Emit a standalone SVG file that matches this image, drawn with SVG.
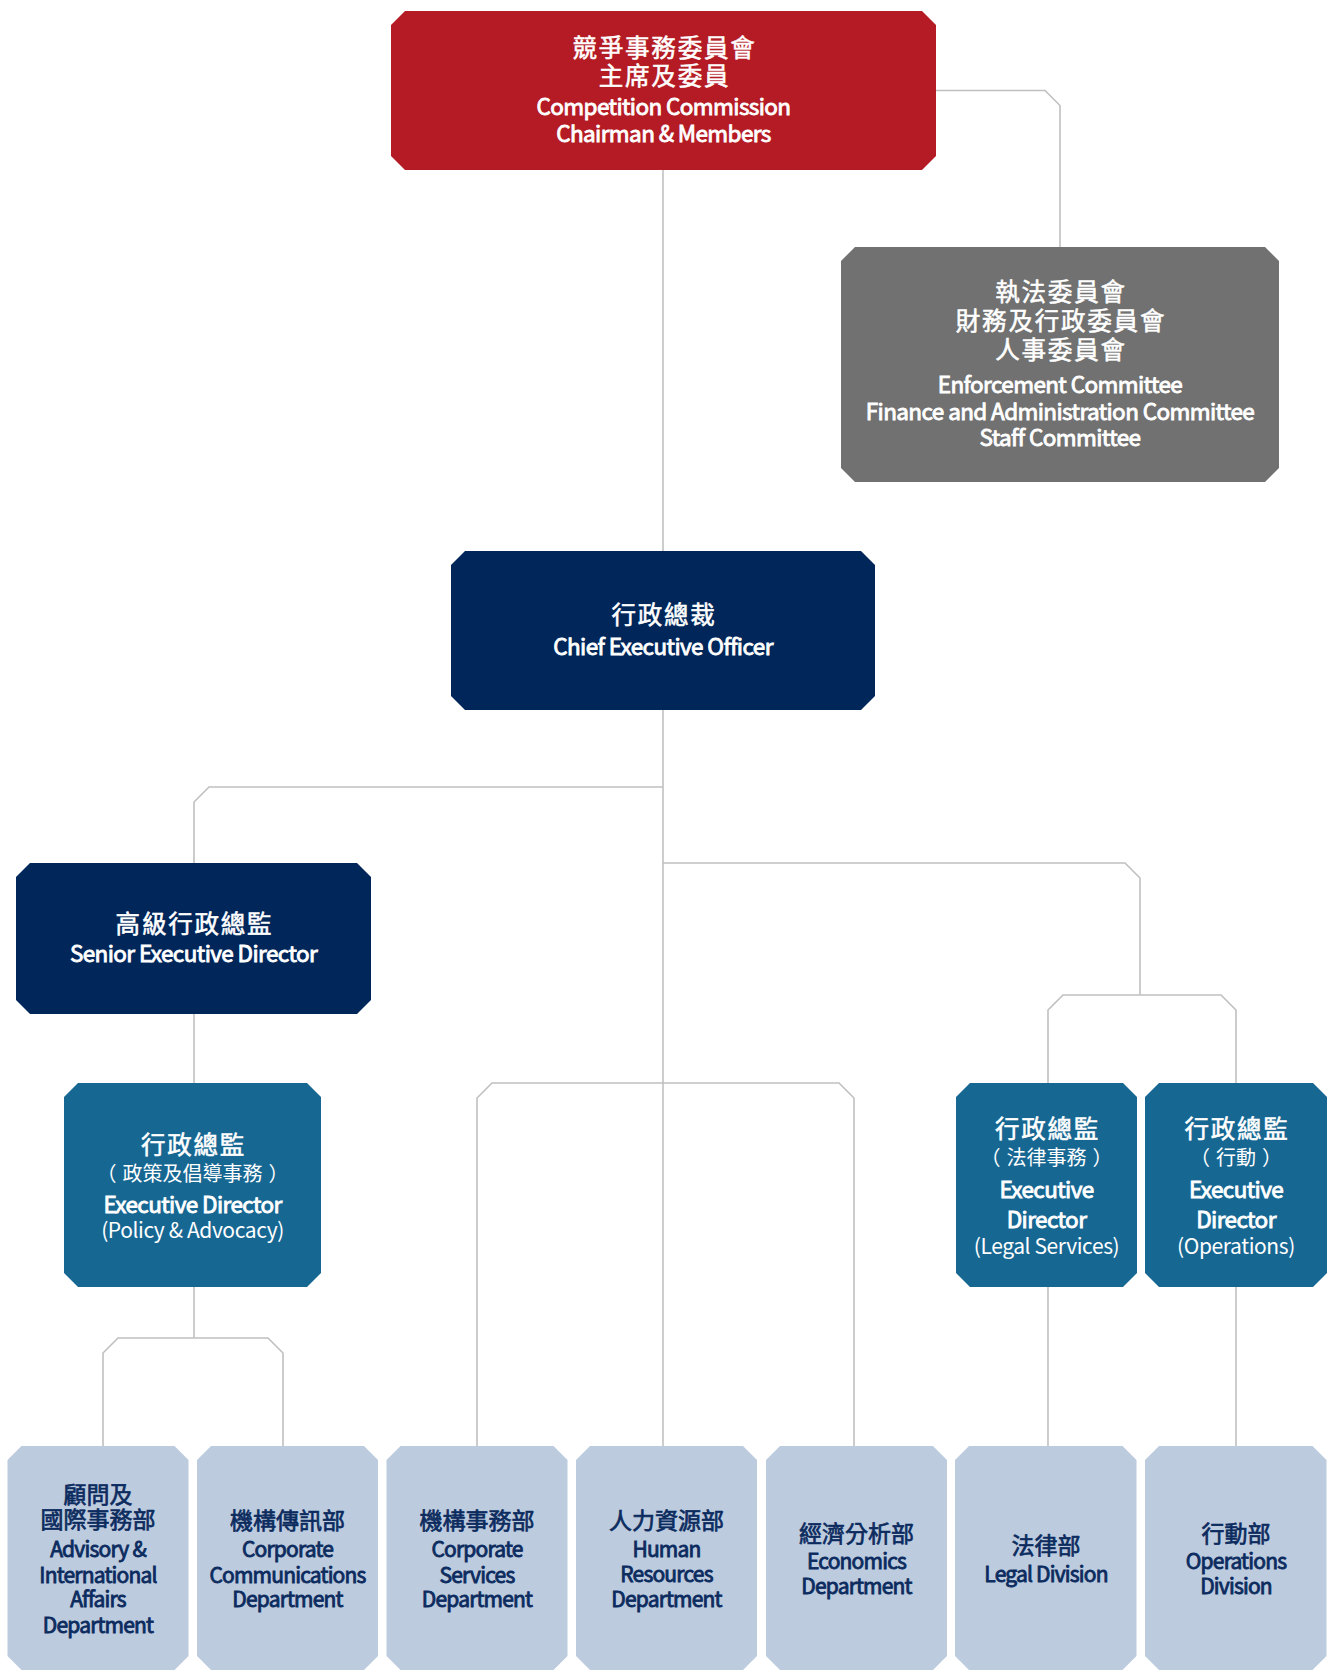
<svg xmlns="http://www.w3.org/2000/svg" width="1329" height="1670" viewBox="0 0 1329 1670">
<style>
text{font-family:"Noto Sans CJK TC","Noto Sans CJK SC",sans-serif;text-anchor:middle}
.w{fill:#ffffff;stroke:#ffffff}
.d{fill:#0c2b5e;stroke:#0c2b5e}
.cn{font-size:24.5px;letter-spacing:1.8px;stroke-width:0.55px}
.cp{font-size:20px;letter-spacing:0;stroke-width:0}
.en{font-size:22.5px;letter-spacing:-0.6px;stroke-width:0.85px}
.ep{font-size:21px;letter-spacing:-0.4px;stroke-width:0}
.bc{font-size:23px;letter-spacing:0;stroke-width:0.7px}
.be{font-size:21px;letter-spacing:-0.8px;stroke-width:0.85px}
.red{fill:#b41b24}
.gry{fill:#717171}
.nav{fill:#00265a}
.mid{fill:#176793}
.lt{fill:#bccbde}
.ln{fill:none;stroke:#c0c0c0;stroke-width:1.6}
</style>
<g id="connectors" class="ln">
<path d="M663,170 V551"/>
<path d="M663,710 V1446"/>
<path d="M936,90.5 H1045 L1060,105.5 V247"/>
<path d="M663,787 H209 L194,802 V863"/>
<path d="M194,1014 V1083"/>
<path d="M194,1287 V1338"/>
<path d="M103,1446 V1353 L118,1338 H268 L283,1353 V1446"/>
<path d="M663,863 H1125 L1140,878 V995"/>
<path d="M1048,1083 V1010 L1063,995 H1221 L1236,1010 V1083"/>
<path d="M477,1446 V1098 L492,1083 H839 L854,1098 V1446"/>
<path d="M1048,1287 V1446"/>
<path d="M1236,1287 V1446"/>
</g>
<g id="commission">
<path class="red" d="M405,11 H922 L936,25 V156 L922,170 H405 L391,156 V25 Z"/>
<text class="w"><tspan class="cn" x="664.5" y="57">競爭事務委員會</tspan><tspan class="cn" x="664.5" y="84.5">主席及委員</tspan><tspan class="en" x="663.5" y="115">Competition Commission</tspan><tspan class="en" x="663.5" y="141.7">Chairman &amp; Members</tspan></text>
</g>
<g id="committees">
<path class="gry" d="M855,247 H1265 L1279,261 V468 L1265,482 H855 L841,468 V261 Z"/>
<text class="w"><tspan class="cn" x="1061" y="301.4">執法委員會</tspan><tspan class="cn" x="1061" y="330.4">財務及行政委員會</tspan><tspan class="cn" x="1061" y="359.4">人事委員會</tspan><tspan class="en" x="1060" y="393.3">Enforcement Committee</tspan><tspan class="en" x="1060" y="420">Finance and Administration Committee</tspan><tspan class="en" x="1060" y="446">Staff Committee</tspan></text>
</g>
<g id="ceo">
<path class="nav" d="M465,551 H861 L875,565 V696 L861,710 H465 L451,696 V565 Z"/>
<text class="w"><tspan class="cn" x="664" y="624">行政總裁</tspan><tspan class="en" x="663" y="655">Chief Executive Officer</tspan></text>
</g>
<g id="sed">
<path class="nav" d="M30,863 H357 L371,877 V1000 L357,1014 H30 L16,1000 V877 Z"/>
<text class="w"><tspan class="cn" x="194.5" y="933">高級行政總監</tspan><tspan class="en" x="193.5" y="961.7">Senior Executive Director</tspan></text>
</g>
<g id="ed-policy">
<path class="mid" d="M78,1083 H307 L321,1097 V1273 L307,1287 H78 L64,1273 V1097 Z"/>
<text class="w"><tspan class="cn" x="193.5" y="1154">行政總監</tspan><tspan class="cp" x="192.5" y="1181">（</tspan><tspan class="cp" dx="6">政策及倡導事務</tspan><tspan class="cp" dx="6">）</tspan><tspan class="en" x="192.5" y="1212.7">Executive Director</tspan><tspan class="ep" x="192.5" y="1238">(Policy &amp; Advocacy)</tspan></text>
</g>
<g id="ed-legal">
<path class="mid" d="M970,1083 H1123 L1137,1097 V1273 L1123,1287 H970 L956,1273 V1097 Z"/>
<text class="w"><tspan class="cn" x="1047.5" y="1138">行政總監</tspan><tspan class="cp" x="1046.5" y="1165">（</tspan><tspan class="cp" dx="6">法律事務</tspan><tspan class="cp" dx="6">）</tspan><tspan class="en" x="1046.5" y="1198.3">Executive</tspan><tspan class="en" x="1046.5" y="1228.3">Director</tspan><tspan class="ep" x="1046.5" y="1254.3">(Legal Services)</tspan></text>
</g>
<g id="ed-ops">
<path class="mid" d="M1159,1083 H1313 L1327,1097 V1273 L1313,1287 H1159 L1145,1273 V1097 Z"/>
<text class="w"><tspan class="cn" x="1237" y="1138">行政總監</tspan><tspan class="cp" x="1236" y="1165">（</tspan><tspan class="cp" dx="6">行動</tspan><tspan class="cp" dx="6">）</tspan><tspan class="en" x="1236" y="1198.3">Executive</tspan><tspan class="en" x="1236" y="1228.3">Director</tspan><tspan class="ep" x="1236" y="1254.3">(Operations)</tspan></text>
</g>
<g id="advisory">
<path class="lt" d="M21.5,1446 H174.5 L188.5,1460 V1656 L174.5,1670 H21.5 L7.5,1656 V1460 Z"/>
<text class="d"><tspan class="bc" x="98" y="1503">顧問及</tspan><tspan class="bc" x="98" y="1528">國際事務部</tspan><tspan class="be" x="98" y="1557.3">Advisory &amp;</tspan><tspan class="be" x="98" y="1582.7">International</tspan><tspan class="be" x="98" y="1607.3">Affairs</tspan><tspan class="be" x="98" y="1632.7">Department</tspan></text>
</g>
<g id="corp-comm">
<path class="lt" d="M211,1446 H364 L378,1460 V1656 L364,1670 H211 L197,1656 V1460 Z"/>
<text class="d"><tspan class="bc" x="287.5" y="1528.7">機構傳訊部</tspan><tspan class="be" x="287.5" y="1557.3">Corporate</tspan><tspan class="be" x="287.5" y="1582.7">Communications</tspan><tspan class="be" x="287.5" y="1607.3">Department</tspan></text>
</g>
<g id="corp-services">
<path class="lt" d="M400.5,1446 H553.5 L567.5,1460 V1656 L553.5,1670 H400.5 L386.5,1656 V1460 Z"/>
<text class="d"><tspan class="bc" x="477" y="1528.7">機構事務部</tspan><tspan class="be" x="477" y="1557.3">Corporate</tspan><tspan class="be" x="477" y="1582.7">Services</tspan><tspan class="be" x="477" y="1607.3">Department</tspan></text>
</g>
<g id="hr">
<path class="lt" d="M590,1446 H743 L757,1460 V1656 L743,1670 H590 L576,1656 V1460 Z"/>
<text class="d"><tspan class="bc" x="666.5" y="1528.7">人力資源部</tspan><tspan class="be" x="666.5" y="1556.7">Human</tspan><tspan class="be" x="666.5" y="1582">Resources</tspan><tspan class="be" x="666.5" y="1606.7">Department</tspan></text>
</g>
<g id="economics">
<path class="lt" d="M780,1446 H933 L947,1460 V1656 L933,1670 H780 L766,1656 V1460 Z"/>
<text class="d"><tspan class="bc" x="856.5" y="1542">經濟分析部</tspan><tspan class="be" x="856.5" y="1569.3">Economics</tspan><tspan class="be" x="856.5" y="1594">Department</tspan></text>
</g>
<g id="legal">
<path class="lt" d="M969,1446 H1122.5 L1136.5,1460 V1656 L1122.5,1670 H969 L955,1656 V1460 Z"/>
<text class="d"><tspan class="bc" x="1046" y="1553.7">法律部</tspan><tspan class="be" x="1046" y="1581.7">Legal Division</tspan></text>
</g>
<g id="operations">
<path class="lt" d="M1159,1446 H1312.5 L1326.5,1460 V1656 L1312.5,1670 H1159 L1145,1656 V1460 Z"/>
<text class="d"><tspan class="bc" x="1236" y="1542">行動部</tspan><tspan class="be" x="1236" y="1569.3">Operations</tspan><tspan class="be" x="1236" y="1594">Division</tspan></text>
</g>
</svg>
